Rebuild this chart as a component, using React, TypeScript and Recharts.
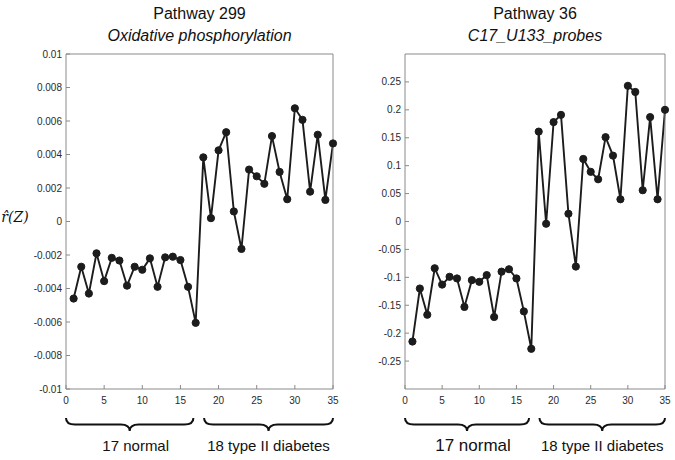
import React from "react";
import { LineChart, Line, XAxis, YAxis } from "recharts";

// ---- data ----
const sampleIndex = [
  1, 2, 3, 4, 5, 6, 7, 8, 9, 10, 11, 12, 13, 14, 15, 16, 17, 18, 19, 20, 21, 22,
  23, 24, 25, 26, 27, 28, 29, 30, 31, 32, 33, 34, 35,
];

const pathway299Values = [
  -0.0046, -0.0027, -0.0043, -0.0019, -0.00356, -0.00217, -0.00233, -0.00383,
  -0.0027, -0.00288, -0.0022, -0.0039, -0.00214, -0.0021, -0.0023, -0.0039,
  -0.00605, 0.00383, 0.0002, 0.00425, 0.00533, 0.0006, -0.00164, 0.0031, 0.0027,
  0.00225, 0.0051, 0.00296, 0.00133, 0.00676, 0.00607, 0.00178, 0.00518,
  0.00129, 0.00466,
];

const pathway36Values = [
  -0.215, -0.12, -0.167, -0.0837, -0.113, -0.099, -0.102, -0.153, -0.105,
  -0.108, -0.096, -0.171, -0.0898, -0.0855, -0.102, -0.161, -0.228, 0.161,
  -0.004, 0.178, 0.191, 0.0139, -0.0807, 0.112, 0.089, 0.0756, 0.151, 0.118,
  0.0398, 0.243, 0.232, 0.056, 0.187, 0.0398, 0.2,
];

const xTicks = [0, 5, 10, 15, 20, 25, 30, 35];
const leftYTicks = [
  -0.01, -0.008, -0.006, -0.004, -0.002, 0, 0.002, 0.004, 0.006, 0.008, 0.01,
];
const rightYTicks = [
  -0.25, -0.2, -0.15, -0.1, -0.05, 0, 0.05, 0.1, 0.15, 0.2, 0.25,
];

const leftTitle = "Pathway 299";
const leftSubtitle = "Oxidative phosphorylation";
const rightTitle = "Pathway 36";
const rightSubtitle = "C17_U133_probes";
const groupLabels = ["17 normal", "18 type II diabetes"];
// brace extents in sample-index units
const braceRanges: [number, number][] = [
  [0, 16.7],
  [18.1, 35],
];

const leftData = sampleIndex.map((x, i) => ({ x, v: pathway299Values[i] }));
const rightData = sampleIndex.map((x, i) => ({ x, v: pathway36Values[i] }));

// ---- layout ----
const H = 460;
const TOP = 54;
const BOTTOM = 389;
const FONT = "'Liberation Sans', Arial, Helvetica, sans-serif";
const AXIS_COLOR = "#8a8a8a";
const INK = "#1c1c1c";

type Panel = {
  left: number;
  width: number;
  marginLeft: number;
  marginRight: number;
};
const leftPanel: Panel = { left: 0, width: 340, marginLeft: 6, marginRight: 7 };
const rightPanel: Panel = { left: 340, width: 335, marginLeft: 5, marginRight: 10 };
const Y_AXIS_W = 60;
const X_AXIS_H = 20;
const MIRROR = 1; // size of the mirrored top/right axes

const plotLeft = (p: Panel) => p.left + p.marginLeft + Y_AXIS_W;
const plotRight = (p: Panel) => p.left + p.width - p.marginRight;
const toPx = (p: Panel, v: number) =>
  plotLeft(p) + ((plotRight(p) - plotLeft(p)) * (v - 0)) / 35;

const fmt = (v: number) => String(v);

function Chart({
  panel,
  data,
  domain,
  yTicks,
}: {
  panel: Panel;
  data: { x: number; v: number }[];
  domain: [number, number];
  yTicks: number[];
}) {
  const tickStyle = { fontSize: 10, fill: "#2a2a2a", fontFamily: FONT };
  return (
    <div style={{ position: "absolute", left: panel.left, top: 0 }}>
      <LineChart
        width={panel.width}
        height={H}
        data={data}
        margin={{
          top: TOP - MIRROR,
          right: panel.marginRight - MIRROR,
          bottom: H - BOTTOM - X_AXIS_H,
          left: panel.marginLeft,
        }}
      >
        <XAxis
          dataKey="x"
          type="number"
          domain={[0, 35]}
          ticks={xTicks}
          interval={0}
          height={X_AXIS_H}
          tickSize={-4}
          tickMargin={12}
          axisLine={{ stroke: AXIS_COLOR }}
          tickLine={{ stroke: AXIS_COLOR }}
          tick={tickStyle}
        />
        <XAxis
          xAxisId="top"
          orientation="top"
          dataKey="x"
          type="number"
          domain={[0, 35]}
          ticks={xTicks}
          interval={0}
          height={MIRROR}
          tickSize={-4}
          tick={false}
          axisLine={{ stroke: AXIS_COLOR }}
          tickLine={{ stroke: AXIS_COLOR }}
        />
        <YAxis
          type="number"
          domain={domain}
          ticks={yTicks}
          interval={0}
          width={Y_AXIS_W}
          tickSize={-4}
          tickMargin={8}
          tickFormatter={fmt}
          axisLine={{ stroke: AXIS_COLOR }}
          tickLine={{ stroke: AXIS_COLOR }}
          tick={tickStyle}
        />
        <YAxis
          yAxisId="right"
          orientation="right"
          type="number"
          domain={domain}
          ticks={yTicks}
          interval={0}
          width={MIRROR}
          tickSize={-4}
          tick={false}
          axisLine={{ stroke: AXIS_COLOR }}
          tickLine={{ stroke: AXIS_COLOR }}
        />
        <Line
          type="linear"
          dataKey="v"
          stroke={INK}
          strokeWidth={1.9}
          dot={{ r: 3.6, fill: INK, stroke: INK, strokeWidth: 1 }}
          isAnimationActive={false}
        />
      </LineChart>
    </div>
  );
}

function bracePath(x1: number, x2: number, yTop: number, yMid: number, yTip: number) {
  const xm = (x1 + x2) / 2;
  const q = 9;
  return [
    `M ${x1} ${yTop}`,
    `Q ${x1} ${yMid} ${x1 + q} ${yMid}`,
    `L ${xm - q} ${yMid}`,
    `Q ${xm} ${yMid} ${xm} ${yTip}`,
    `Q ${xm} ${yMid} ${xm + q} ${yMid}`,
    `L ${x2 - q} ${yMid}`,
    `Q ${x2} ${yMid} ${x2} ${yTop}`,
  ].join(" ");
}

function Overlay() {
  const panels = [leftPanel, rightPanel];
  const titles = [
    [leftTitle, leftSubtitle],
    [rightTitle, rightSubtitle],
  ];
  return (
    <svg
      width={675}
      height={460}
      style={{ position: "absolute", left: 0, top: 0, pointerEvents: "none" }}
    >
      {panels.map((p, pi) => {
        const cx = (plotLeft(p) + plotRight(p)) / 2;
        return (
          <g key={pi}>
            <text
              x={cx}
              y={19}
              textAnchor="middle"
              fontFamily={FONT}
              fontSize={16}
              fill="#111"
            >
              {titles[pi][0]}
            </text>
            <text
              x={cx}
              y={41}
              textAnchor="middle"
              fontFamily={FONT}
              fontSize={16}
              fontStyle="italic"
              fill="#111"
            >
              {titles[pi][1]}
            </text>
            {braceRanges.map(([a, b], bi) => {
              const x1 = toPx(p, a);
              const x2 = toPx(p, b);
              return (
                <g key={bi}>
                  <path
                    d={bracePath(x1, x2, 418, 424.5, 431)}
                    fill="none"
                    stroke="#111"
                    strokeWidth={2}
                  />
                  <text
                    x={(x1 + x2) / 2 + (bi === 0 ? 6 : 0)}
                    y={451}
                    textAnchor="middle"
                    fontFamily={FONT}
                    fontSize={pi === 1 && bi === 0 ? 17 : 15}
                    fill="#111"
                  >
                    {groupLabels[bi]}
                  </text>
                </g>
              );
            })}
          </g>
        );
      })}
      <text
        x={15}
        y={222}
        textAnchor="middle"
        fontFamily="'DejaVu Serif', 'Liberation Serif', serif"
        fontSize={14}
        fontStyle="italic"
        fill="#111"
      >
        r̂(Z)
      </text>
    </svg>
  );
}

export default function App() {
  return (
    <div
      style={{
        position: "relative",
        width: 675,
        height: 460,
        background: "#fff",
        overflow: "hidden",
      }}
    >
      <style>{`body{margin:0}`}</style>
      <Chart
        panel={leftPanel}
        data={leftData}
        domain={[-0.01, 0.01]}
        yTicks={leftYTicks}
      />
      <Chart
        panel={rightPanel}
        data={rightData}
        domain={[-0.3, 0.3]}
        yTicks={rightYTicks}
      />
      <Overlay />
    </div>
  );
}
